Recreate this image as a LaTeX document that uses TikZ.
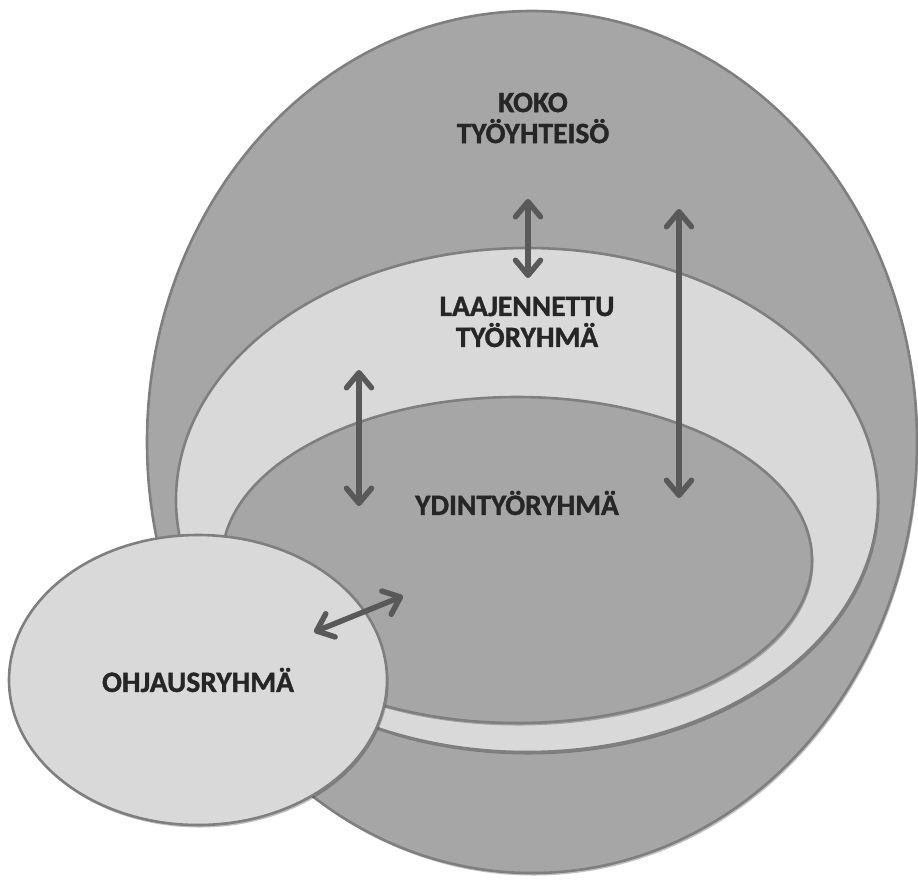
\documentclass[tikz,border=0pt]{standalone}
\usepackage{fontspec}
\setmainfont{Carlito}[BoldFont={Carlito Bold}]
\newfontfamily\lblfont{Carlito Bold}[FakeBold=1.2]
\usetikzlibrary{shapes.geometric,arrows.meta,shadows}
\definecolor{darkfill}{HTML}{A6A6A6}
\definecolor{lightfill}{HTML}{D9D9D9}
\definecolor{edgegray}{HTML}{7F7F7F}
\definecolor{arrowgray}{HTML}{595959}
\definecolor{textgray}{HTML}{262626}
\tikzset{
  blob/.style={ellipse, draw=edgegray, line width=2.6pt, inner sep=0pt, outer sep=0pt,
    drop shadow={shadow xshift=1.5pt, shadow yshift=-2.5pt, opacity=0.25, fill=black}},
  darkblob/.style={blob, fill=darkfill},
  lightblob/.style={blob, fill=lightfill},
  label/.style={font=\lblfont\fontsize{29.5}{34}\selectfont, text=textgray, align=center, inner sep=0pt},
  link/.style={draw=arrowgray, line width=5.5pt, line cap=round,
    {Straight Barb[length=15pt,width=25pt,line width=5.5pt,round]}-{Straight Barb[length=15pt,width=25pt,line width=5.5pt,round]}}
}
\begin{document}
\begin{tikzpicture}[x=1pt,y=-1pt]
\useasboundingbox (0,0) rectangle (918,879);
\node[darkblob, minimum width=770pt, minimum height=862pt] (koko) at (532,442) {};
\node[lightblob, minimum width=702pt, minimum height=504pt] (laaj) at (527,500) {};
\node[darkblob, minimum width=590pt, minimum height=326pt] (ydin) at (517,560) {};
\node[lightblob, minimum width=378pt, minimum height=290pt] (ohj) at (198,680) {};

\node[label] (tkoko) at (533,118) {KOKO\\[-3pt]TYÖYHTEISÖ};
\node[label] (tlaaj) at (527,322) {LAAJENNETTU\\[-3pt]TYÖRYHMÄ};
\node[label] (tydin) at (517,503) {YDINTYÖRYHMÄ};
\node[label] (tohj) at (198,680) {OHJAUSRYHMÄ};

\coordinate (a1t) at (528,199);
\coordinate (a1b) at (528,278);
\coordinate (a2t) at (679,209);
\coordinate (a2b) at (679,498);
\coordinate (a3t) at (359,370);
\coordinate (a3b) at (359,506);
\coordinate (a4l) at (314,632);
\coordinate (a4r) at (403,596);
\draw[link] (a1t) -- (a1b);
\draw[link] (a2t) -- (a2b);
\draw[link] (a3t) -- (a3b);
\draw[link] (a4l) -- (a4r);
\end{tikzpicture}
\end{document}
